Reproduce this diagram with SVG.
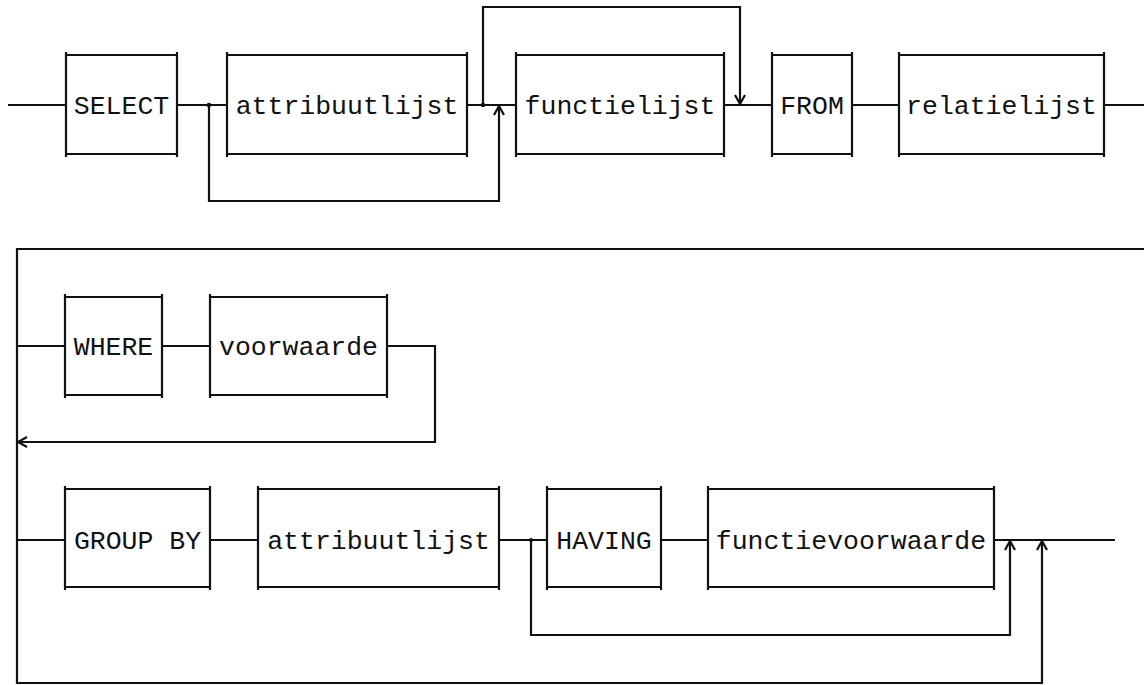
<svg xmlns="http://www.w3.org/2000/svg" width="1144" height="685" viewBox="0 0 1144 685">
  <style>
    .box { fill: none; stroke: #111; stroke-width: 2.2; stroke-linecap: butt; }
    .wire { fill: none; stroke: #111; stroke-width: 2.2; stroke-linejoin: miter; }
    .lbl { font-family: "Liberation Mono", "DejaVu Sans Mono", monospace; font-size: 26.5px; fill: #111; text-anchor: middle; }
    .dot { fill: #111; }
  </style>
  <defs>
    <marker id="arrow" markerUnits="userSpaceOnUse" markerWidth="20" markerHeight="20" refX="0" refY="0" orient="auto" overflow="visible">
      <path d="M-9,-5 L0,0 L-9,5" fill="none" stroke="#111" stroke-width="2.2"/>
    </marker>
  </defs>

  <rect width="1144" height="685" fill="#fff"/>

  <!-- connectors -->
  <g id="connectors">
    <!-- SELECT clause -->
    <path class="wire" d="M8 105 H66"/>
    <path class="wire" d="M177 105 H227"/>
    <path class="wire" d="M209 105 V201 H499 V106" marker-end="url(#arrow)"/>
    <path class="wire" d="M467 105 H516"/>
    <path class="wire" d="M483 105 V7 H740 V104" marker-end="url(#arrow)"/>
    <path class="wire" d="M724 105 H772"/>
    <path class="wire" d="M852 105 H899"/>
    <path class="wire" d="M1104 105 H1144"/>
    <!-- frame around WHERE / GROUP BY -->
    <path class="wire" d="M1144 249 H17 V683 H1042 V541" marker-end="url(#arrow)"/>
    <!-- WHERE clause -->
    <path class="wire" d="M17 346 H65"/>
    <path class="wire" d="M162 346 H210"/>
    <path class="wire" d="M387 346 H435 V442 H18" marker-end="url(#arrow)"/>
    <!-- GROUP BY / HAVING clause -->
    <path class="wire" d="M17 540 H65"/>
    <path class="wire" d="M210 540 H258"/>
    <path class="wire" d="M499 540 H547"/>
    <path class="wire" d="M531 540 V635 H1010 V541" marker-end="url(#arrow)"/>
    <path class="wire" d="M661 540 H708"/>
    <path class="wire" d="M994 540 H1115"/>
    <!-- junctions -->
    <circle class="dot" cx="209" cy="105" r="2.3"/>
    <circle class="dot" cx="483" cy="105" r="2.3"/>
    <circle class="dot" cx="531" cy="540" r="2"/>
  </g>

  <!-- nodes: boxes drawn with slightly overshooting sides -->
  <g id="select">
    <path class="box" d="M66 52 V157 M177 52 V157 M66 55 H177 M66 154 H177"/>
    <text class="lbl" x="121.5" y="114">SELECT</text>
  </g>
  <g id="attribuutlijst-1">
    <path class="box" d="M227 52 V157 M467 52 V157 M227 55 H467 M227 154 H467"/>
    <text class="lbl" x="347" y="114">attribuutlijst</text>
  </g>
  <g id="functielijst">
    <path class="box" d="M516 52 V157 M724 52 V157 M516 55 H724 M516 154 H724"/>
    <text class="lbl" x="620" y="114">functielijst</text>
  </g>
  <g id="from">
    <path class="box" d="M772 52 V157 M852 52 V157 M772 55 H852 M772 154 H852"/>
    <text class="lbl" x="812" y="114">FROM</text>
  </g>
  <g id="relatielijst">
    <path class="box" d="M899 52 V157 M1104 52 V157 M899 55 H1104 M899 154 H1104"/>
    <text class="lbl" x="1001.5" y="114">relatielijst</text>
  </g>

  <g id="where">
    <path class="box" d="M65 294 V398 M162 294 V398 M65 297 H162 M65 395 H162"/>
    <text class="lbl" x="113.5" y="355">WHERE</text>
  </g>
  <g id="voorwaarde">
    <path class="box" d="M210 294 V398 M387 294 V398 M210 297 H387 M210 395 H387"/>
    <text class="lbl" x="298.5" y="355">voorwaarde</text>
  </g>

  <g id="group-by">
    <path class="box" d="M65 486 V590 M210 486 V590 M65 489 H210 M65 587 H210"/>
    <text class="lbl" x="137.5" y="549">GROUP BY</text>
  </g>
  <g id="attribuutlijst-2">
    <path class="box" d="M258 486 V590 M499 486 V590 M258 489 H499 M258 587 H499"/>
    <text class="lbl" x="378.5" y="549">attribuutlijst</text>
  </g>
  <g id="having">
    <path class="box" d="M547 486 V590 M661 486 V590 M547 489 H661 M547 587 H661"/>
    <text class="lbl" x="604" y="549">HAVING</text>
  </g>
  <g id="functievoorwaarde">
    <path class="box" d="M708 486 V590 M994 486 V590 M708 489 H994 M708 587 H994"/>
    <text class="lbl" x="851" y="549">functievoorwaarde</text>
  </g>
</svg>
